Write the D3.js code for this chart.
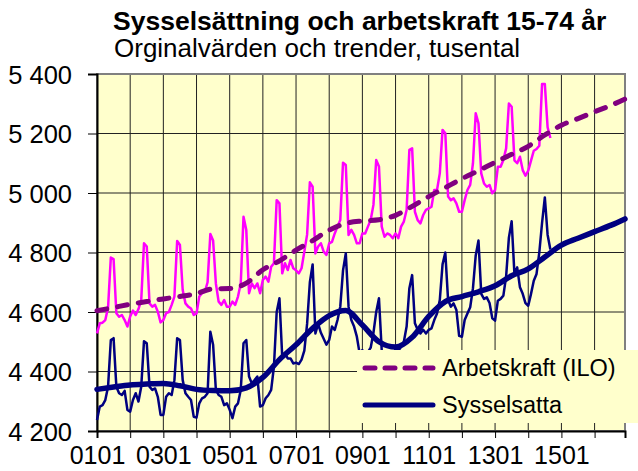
<!DOCTYPE html>
<html>
<head>
<meta charset="utf-8">
<script src="https://cdnjs.cloudflare.com/ajax/libs/d3/7.8.5/d3.min.js"></script>
<style>
	body { margin: 0; background: #fff; }
	text { font-family: "Liberation Sans", Arial, sans-serif; fill: #000; }
</style>
</head>
<body>
<div id="viz"></div>
<script>
// monthly values from 2001-01, tusental
var startYear = 2001;

var arbetskraft = [
	4528, 4562, 4564, 4573, 4615, 4783, 4778, 4596, 4584, 4590, 4573, 4551, // 2001
	4585, 4605, 4590, 4610, 4640, 4831, 4820, 4629, 4618, 4624, 4601, 4565, // 2002
	4573, 4596, 4600, 4624, 4652, 4839, 4825, 4674, 4629, 4618, 4612, 4590, // 2003
	4595, 4652, 4663, 4668, 4700, 4862, 4840, 4696, 4635, 4624, 4640, 4618, // 2004
	4618, 4635, 4624, 4652, 4696, 4920, 4876, 4663, 4696, 4680, 4696, 4663, // 2005
	4708, 4719, 4702, 4752, 4764, 4976, 4965, 4730, 4764, 4741, 4775, 4747, // 2006
	4740, 4730, 4747, 4803, 4860, 5036, 5021, 4797, 4820, 4831, 4803, 4792, // 2007
	4831, 4836, 4864, 4887, 4909, 5102, 5094, 4859, 4876, 4859, 4831, 4831, // 2008
	4864, 4864, 4887, 4909, 4960, 5111, 5089, 4887, 4853, 4864, 4859, 4848, // 2009
	4864, 4848, 4887, 4904, 4943, 5145, 5150, 4937, 4909, 4898, 4926, 4943, // 2010
	4948, 4954, 5010, 5010, 5066, 5212, 5201, 4988, 4976, 4982, 4965, 4937, // 2011
	4937, 4976, 5010, 5027, 5100, 5268, 5234, 5066, 5032, 5021, 5027, 4999, // 2012
	5010, 5088, 5088, 5111, 5150, 5301, 5290, 5110, 5100, 5122, 5077, 5058, // 2013
	5075, 5109, 5142, 5148, 5159, 5366, 5366, 5221, 5185                    // 2014
];

var sysselsatta = [
	4237, 4282, 4287, 4304, 4349, 4506, 4512, 4349, 4327, 4321, 4335, 4271, // 2001
	4265, 4304, 4327, 4299, 4349, 4502, 4495, 4349, 4338, 4343, 4315, 4254, // 2002
	4254, 4315, 4327, 4321, 4371, 4512, 4506, 4371, 4327, 4315, 4304, 4248, // 2003
	4245, 4293, 4310, 4315, 4327, 4534, 4490, 4338, 4321, 4315, 4287, 4293, // 2004
	4271, 4243, 4282, 4293, 4338, 4495, 4506, 4383, 4360, 4371, 4383, 4282, // 2005
	4287, 4310, 4321, 4338, 4416, 4600, 4646, 4450, 4461, 4444, 4444, 4427, // 2006
	4430, 4425, 4440, 4470, 4560, 4700, 4760, 4528, 4560, 4530, 4510, 4490, // 2007
	4506, 4551, 4540, 4573, 4618, 4740, 4797, 4618, 4573, 4551, 4517, 4461, // 2008
	4472, 4455, 4465, 4480, 4530, 4600, 4646, 4470, 4440, 4450, 4440, 4430, // 2009
	4480, 4470, 4483, 4500, 4551, 4680, 4724, 4562, 4540, 4528, 4540, 4528, // 2010
	4540, 4545, 4573, 4595, 4640, 4760, 4800, 4640, 4618, 4629, 4607, 4520, // 2011
	4517, 4573, 4595, 4616, 4680, 4790, 4840, 4661, 4644, 4649, 4630, 4579, // 2012
	4571, 4638, 4644, 4655, 4720, 4850, 4905, 4728, 4750, 4683, 4661, 4630, // 2013
	4621, 4661, 4705, 4728, 4800, 4900, 4985, 4860, 4810                    // 2014
];

// trend points (year-month)
var trendMonths = [
	"2001-01", "2001-07", "2002-01", "2002-07", "2003-01", "2003-07", "2004-01", "2004-07",
	"2005-01", "2005-07", "2006-01", "2006-07", "2007-01", "2007-07", "2008-01", "2008-07",
	"2009-01", "2009-07", "2010-01", "2010-07", "2011-01", "2011-07", "2012-01", "2012-07",
	"2013-01", "2013-07", "2014-01", "2014-07", "2015-01", "2015-07", "2016-01", "2016-07", "2016-12"
];
var arbetskraftTrend = [
	4604, 4615, 4626, 4635, 4644, 4652, 4662, 4678,
	4679, 4697, 4742, 4772, 4808, 4840, 4875, 4898,
	4906, 4910, 4925, 4955, 4988, 5018, 5048, 5075,
	5103, 5130, 5157, 5195, 5228, 5250, 5273, 5295, 5316
];
var sysselsattaTrend = [
	4340, 4348, 4355, 4358, 4360, 4352, 4340, 4336,
	4335, 4345, 4380, 4440, 4490, 4545, 4588, 4605,
	4556, 4500, 4482, 4515, 4585, 4635, 4652, 4668,
	4688, 4722, 4745, 4785, 4825, 4848, 4870, 4892, 4913
];

var yTicks = [4200, 4400, 4600, 4800, 5000, 5200, 5400];
var xTickLabels = ["0101", "0301", "0501", "0701", "0901", "1101", "1301", "1501"];
var legendLabels = ["Arbetskraft (ILO)", "Sysselsatta"];

var w = 638, h = 471;
var plotLeft = 97, plotRight = 625, plotTop = 74, plotBottom = 431;

function monthIndex(ym) {
	var p = ym.split("-");
	return (+p[0] - startYear) * 12 + (+p[1] - 1);
}

var x = d3.scaleLinear().domain([0, monthIndex("2016-12")]).range([plotLeft, plotRight]);
var y = d3.scaleLinear().domain([4200, 5400]).range([plotBottom, plotTop]);

var svg = d3.select("#viz")
	.append("svg")
	.attr("width", w)
	.attr("height", h);

// title
svg.append("text")
	.attr("x", 113).attr("y", 30)
	.style("font-size", "26.5px")
	.style("font-weight", "bold")
	.text("Sysselsättning och arbetskraft 15-74 år");
svg.append("text")
	.attr("x", 114).attr("y", 57)
	.style("font-size", "26px")
	.text("Orginalvärden och trender, tusental");

// plot background
svg.append("rect")
	.attr("x", plotLeft).attr("y", plotTop)
	.attr("width", plotRight - plotLeft).attr("height", plotBottom - plotTop)
	.style("fill", "#ffffcc");

// gridlines
var years = d3.range(2001, 2017);
svg.append("g").selectAll("line")
	.data(yTicks.slice(1))
	.enter().append("line")
		.attr("x1", plotLeft).attr("x2", plotRight)
		.attr("y1", function(d){ return y(d); })
		.attr("y2", function(d){ return y(d); })
		.style("stroke", "#222").style("stroke-width", 1);
svg.append("g").selectAll("line")
	.data(years.slice(1))
	.enter().append("line")
		.attr("x1", function(d){ return x((d - startYear) * 12); })
		.attr("x2", function(d){ return x((d - startYear) * 12); })
		.attr("y1", plotTop).attr("y2", plotBottom)
		.style("stroke", "#222").style("stroke-width", 1);

// border
svg.append("rect")
	.attr("x", plotLeft).attr("y", plotTop)
	.attr("width", plotRight - plotLeft).attr("height", plotBottom - plotTop)
	.style("fill", "none")
	.style("stroke", "#808080").style("stroke-width", 2);

// y axis
var yAxis = d3.axisLeft(y)
	.tickValues(yTicks)
	.tickSize(9)
	.tickPadding(16)
	.tickFormat(function(d){ return d3.format(",")(d).replace(",", " "); });
var gy = svg.append("g")
	.attr("transform", "translate(" + plotLeft + ",0)")
	.call(yAxis);
gy.select(".domain").style("stroke", "#000").style("stroke-width", 2);
gy.selectAll("text")
	.attr("dy", "0.36em")
	.style("font-size", "25.5px")
	.style("font-family", "'Liberation Sans', Arial, sans-serif");

// x axis, ticks every year, labels every second
var xAxis = d3.axisBottom(x)
	.tickValues(years.map(function(d){ return (d - startYear) * 12; }))
	.tickSize(7)
	.tickPadding(8)
	.tickFormat(function(d, i){ return i % 2 === 0 ? xTickLabels[i / 2] : ""; });
var gx = svg.append("g")
	.attr("transform", "translate(0," + plotBottom + ")")
	.call(xAxis);
gx.select(".domain").style("stroke", "#000").style("stroke-width", 2);
gx.selectAll("text")
	.style("font-size", "25px")
	.style("font-family", "'Liberation Sans', Arial, sans-serif");

// series
var line = d3.line()
	.x(function(d, i){ return x(i); })
	.y(function(d){ return y(d); });

var trendLine = d3.line()
	.curve(d3.curveMonotoneX)
	.x(function(d, i){ return x(monthIndex(trendMonths[i])); })
	.y(function(d){ return y(d); });

svg.append("path")
	.datum(arbetskraft)
	.attr("d", line)
	.style("fill", "none")
	.style("stroke", "#ff00ff")
	.style("stroke-width", 2.5)
	.style("stroke-linejoin", "round");

svg.append("path")
	.datum(sysselsatta)
	.attr("d", line)
	.style("fill", "none")
	.style("stroke", "#000080")
	.style("stroke-width", 2.5)
	.style("stroke-linejoin", "round");

svg.append("path")
	.datum(arbetskraftTrend)
	.attr("d", trendLine)
	.style("fill", "none")
	.style("stroke", "#800080")
	.style("stroke-width", 5)
	.style("stroke-dasharray", "10,11")
	.style("stroke-linecap", "round");

svg.append("path")
	.datum(sysselsattaTrend)
	.attr("d", trendLine)
	.style("fill", "none")
	.style("stroke", "#000080")
	.style("stroke-width", 5.5)
	.style("stroke-linecap", "round");

// legend
var legend = svg.append("g");
legend.append("rect")
	.attr("x", 357).attr("y", 350)
	.attr("width", 281).attr("height", 73)
	.style("fill", "#ffffcc");

var legendItems = legend.selectAll("g.item")
	.data(legendLabels)
	.enter().append("g")
		.attr("class", "item")
		.attr("transform", function(d, i){ return "translate(0," + (368 + i * 37) + ")"; });

legendItems.append("line")
	.attr("x1", 365).attr("x2", 433)
	.attr("y1", 0).attr("y2", 0)
	.style("stroke", function(d, i){ return i === 0 ? "#800080" : "#000080"; })
	.style("stroke-width", 5)
	.style("stroke-linecap", "round")
	.style("stroke-dasharray", function(d, i){ return i === 0 ? "10,10" : null; });

legendItems.append("text")
	.attr("x", 442).attr("y", 8)
	.style("font-size", "23.5px")
	.text(function(d){ return d; });
</script>
</body>
</html>
